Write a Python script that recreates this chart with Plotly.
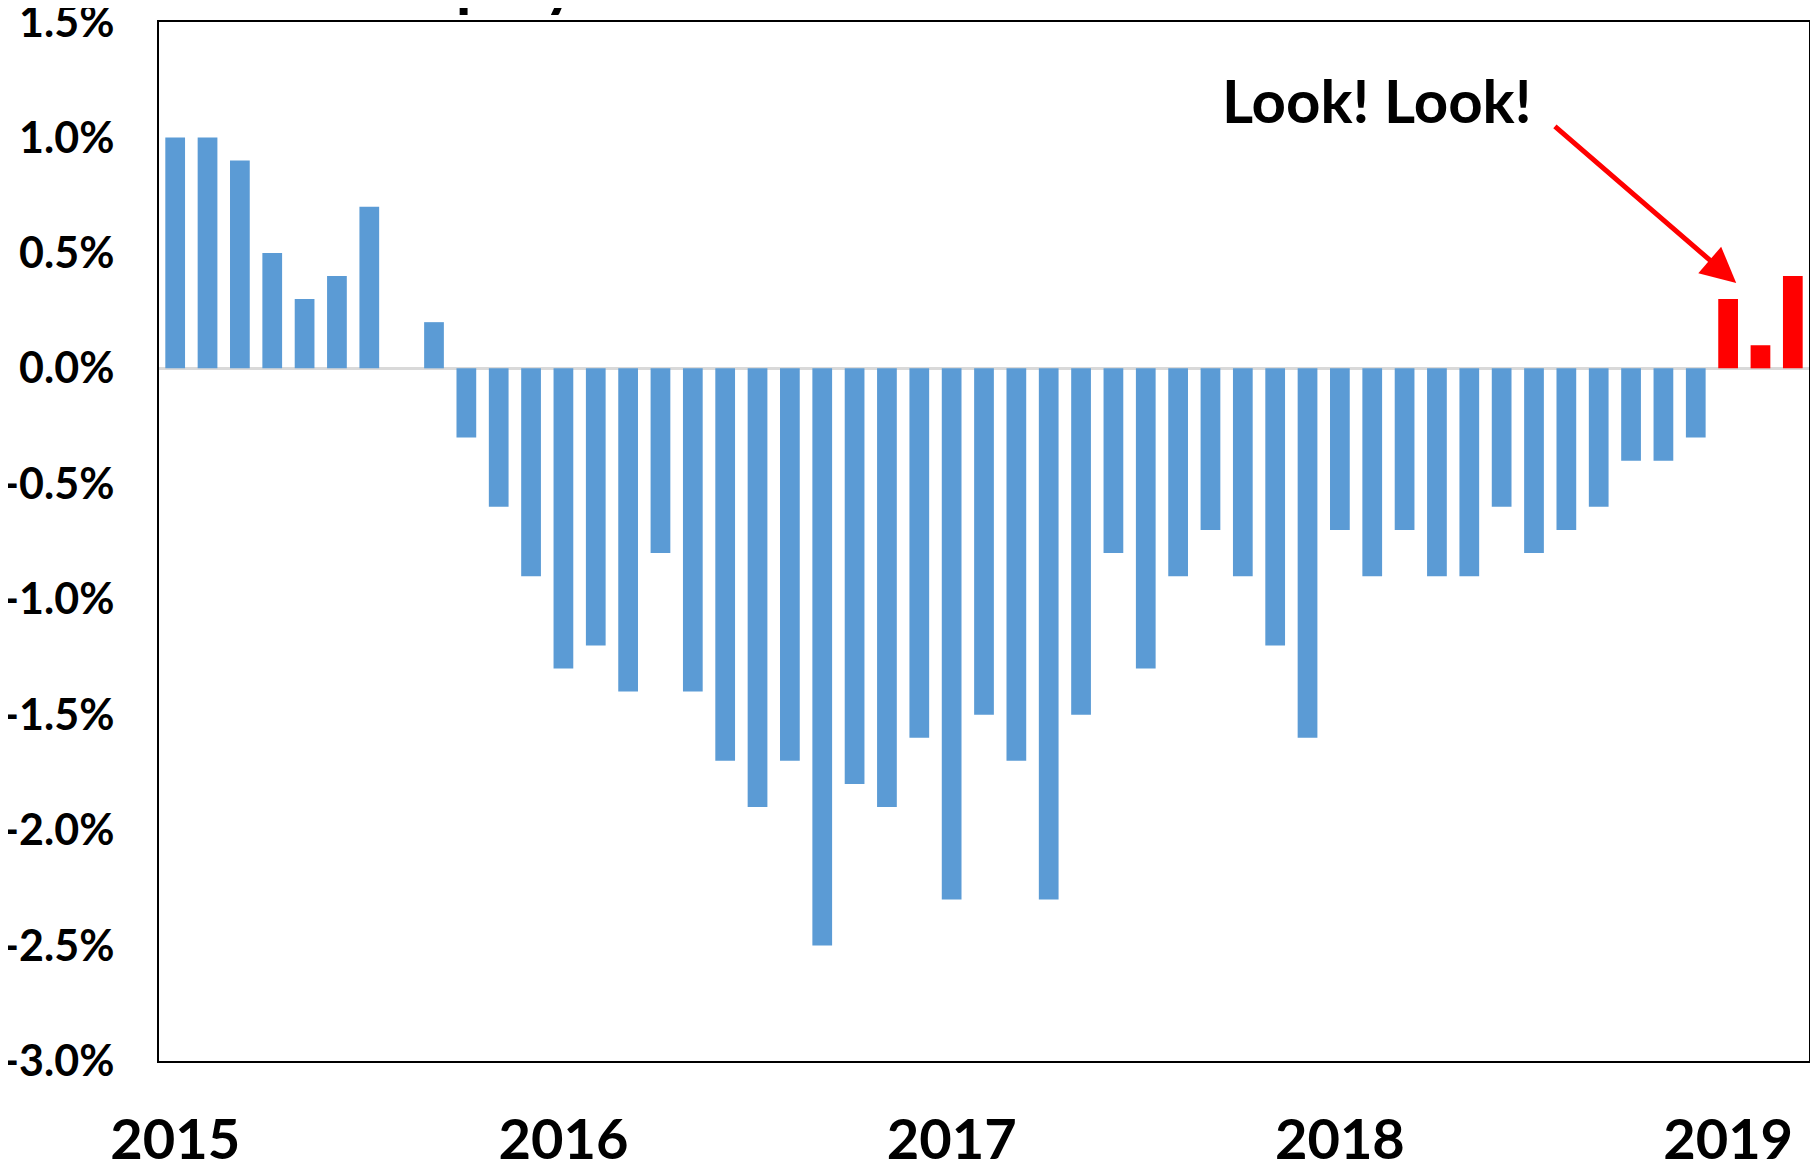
import plotly.graph_objects as go

# ---- data ----
years = ["2015", "2016", "2017", "2018", "2019"]
month_names = ["Jan", "Feb", "Mar", "Apr", "May", "Jun",
               "Jul", "Aug", "Sep", "Oct", "Nov", "Dec"]
categories = [f"{m} {y}" for y in years[:-1] for m in month_names] + \
             ["Jan 2019", "Feb 2019", "Mar 2019"]

values = [1.0, 1.0, 0.9, 0.5, 0.3, 0.4, 0.7, 0.0, 0.2, -0.3, -0.6, -0.9,
          -1.3, -1.2, -1.4, -0.8, -1.4, -1.7, -1.9, -1.7, -2.5, -1.8, -1.9, -1.6,
          -2.3, -1.5, -1.7, -2.3, -1.5, -0.8, -1.3, -0.9, -0.7, -0.9, -1.2, -1.6,
          -0.7, -0.9, -0.7, -0.9, -0.9, -0.6, -0.8, -0.7, -0.6, -0.4, -0.4, -0.3,
          0.3, 0.1, 0.4]

highlight = ["Jan 2019", "Feb 2019", "Mar 2019"]

y_tick_vals = [-3.0, -2.5, -2.0, -1.5, -1.0, -0.5, 0.0, 0.5, 1.0, 1.5]
y_tick_text = ["-3.0%", "-2.5%", "-2.0%", "-1.5%", "-1.0%", "-0.5%",
               "0.0%", "0.5%", "1.0%", "1.5%"]
x_tick_vals = ["Jan 2015", "Jan 2016", "Jan 2017", "Jan 2018", "Jan 2019"]
x_tick_text = years

annotation_text = "Look! Look!"
title_text = "Employment"

BLUE = "#5B9BD5"
RED = "#FF0000"
FONT = "Lato"

colors = [RED if c in highlight else BLUE for c in categories]

fig = go.Figure()
fig.add_trace(go.Bar(x=categories, y=values, marker=dict(color=colors, line=dict(width=0)),
                     showlegend=False))

# the page body adds an 8px margin, so the figure is 8px smaller in each direction
fig.update_layout(
    width=1810, height=1160,
    margin=dict(l=151, r=9, t=14, b=107, autoexpand=False),
    paper_bgcolor="white", plot_bgcolor="white",
    bargap=0.39,
    font=dict(family=FONT, color="black"),
)
fig.update_xaxes(
    type="category", categoryorder="array", categoryarray=categories,
    range=[-0.5, len(categories) - 0.5],
    tickvals=x_tick_vals, ticktext=x_tick_text,
    tickfont=dict(family=FONT, size=56, color="black", weight="bold"),
    ticks="", ticklabelstandoff=29, automargin=False, ticklabeloverflow="allow",
    showline=True, linecolor="black", linewidth=2, mirror=True,
    showgrid=False, zeroline=False,
)
fig.update_yaxes(
    range=[-3.0, 1.5],
    tickvals=y_tick_vals, ticktext=y_tick_text,
    tickfont=dict(family=FONT, size=43, color="black", weight="bold"),
    ticks="", ticklabelstandoff=34, automargin=False, ticklabeloverflow="allow",
    showline=True, linecolor="black", linewidth=2, mirror=True,
    showgrid=False,
    zeroline=True, zerolinecolor="#D9D9D9", zerolinewidth=3,
)

# arrow pointing at the highlighted bars
fig.add_annotation(
    x=48.25, y=0.37, ax=42.6, ay=1.054,
    xref="x", yref="y", axref="x", ayref="y",
    text="", showarrow=True, arrowhead=2, arrowsize=1.4, arrowwidth=5,
    arrowcolor=RED, standoff=0,
)
fig.add_annotation(
    x=37.15, y=1.162, xref="x", yref="y",
    text=annotation_text, showarrow=False,
    font=dict(family=FONT, size=60, color="black", weight="bold"),
    xanchor="center", yanchor="middle",
)
# partially clipped title at the very top
fig.add_annotation(
    x=0.1243, y=1.001, xref="paper", yref="paper",
    text=title_text, showarrow=False,
    font=dict(family=FONT, size=64, color="black", weight="bold"),
    xanchor="left", yanchor="bottom",
)

fig.write_html("out.html")
